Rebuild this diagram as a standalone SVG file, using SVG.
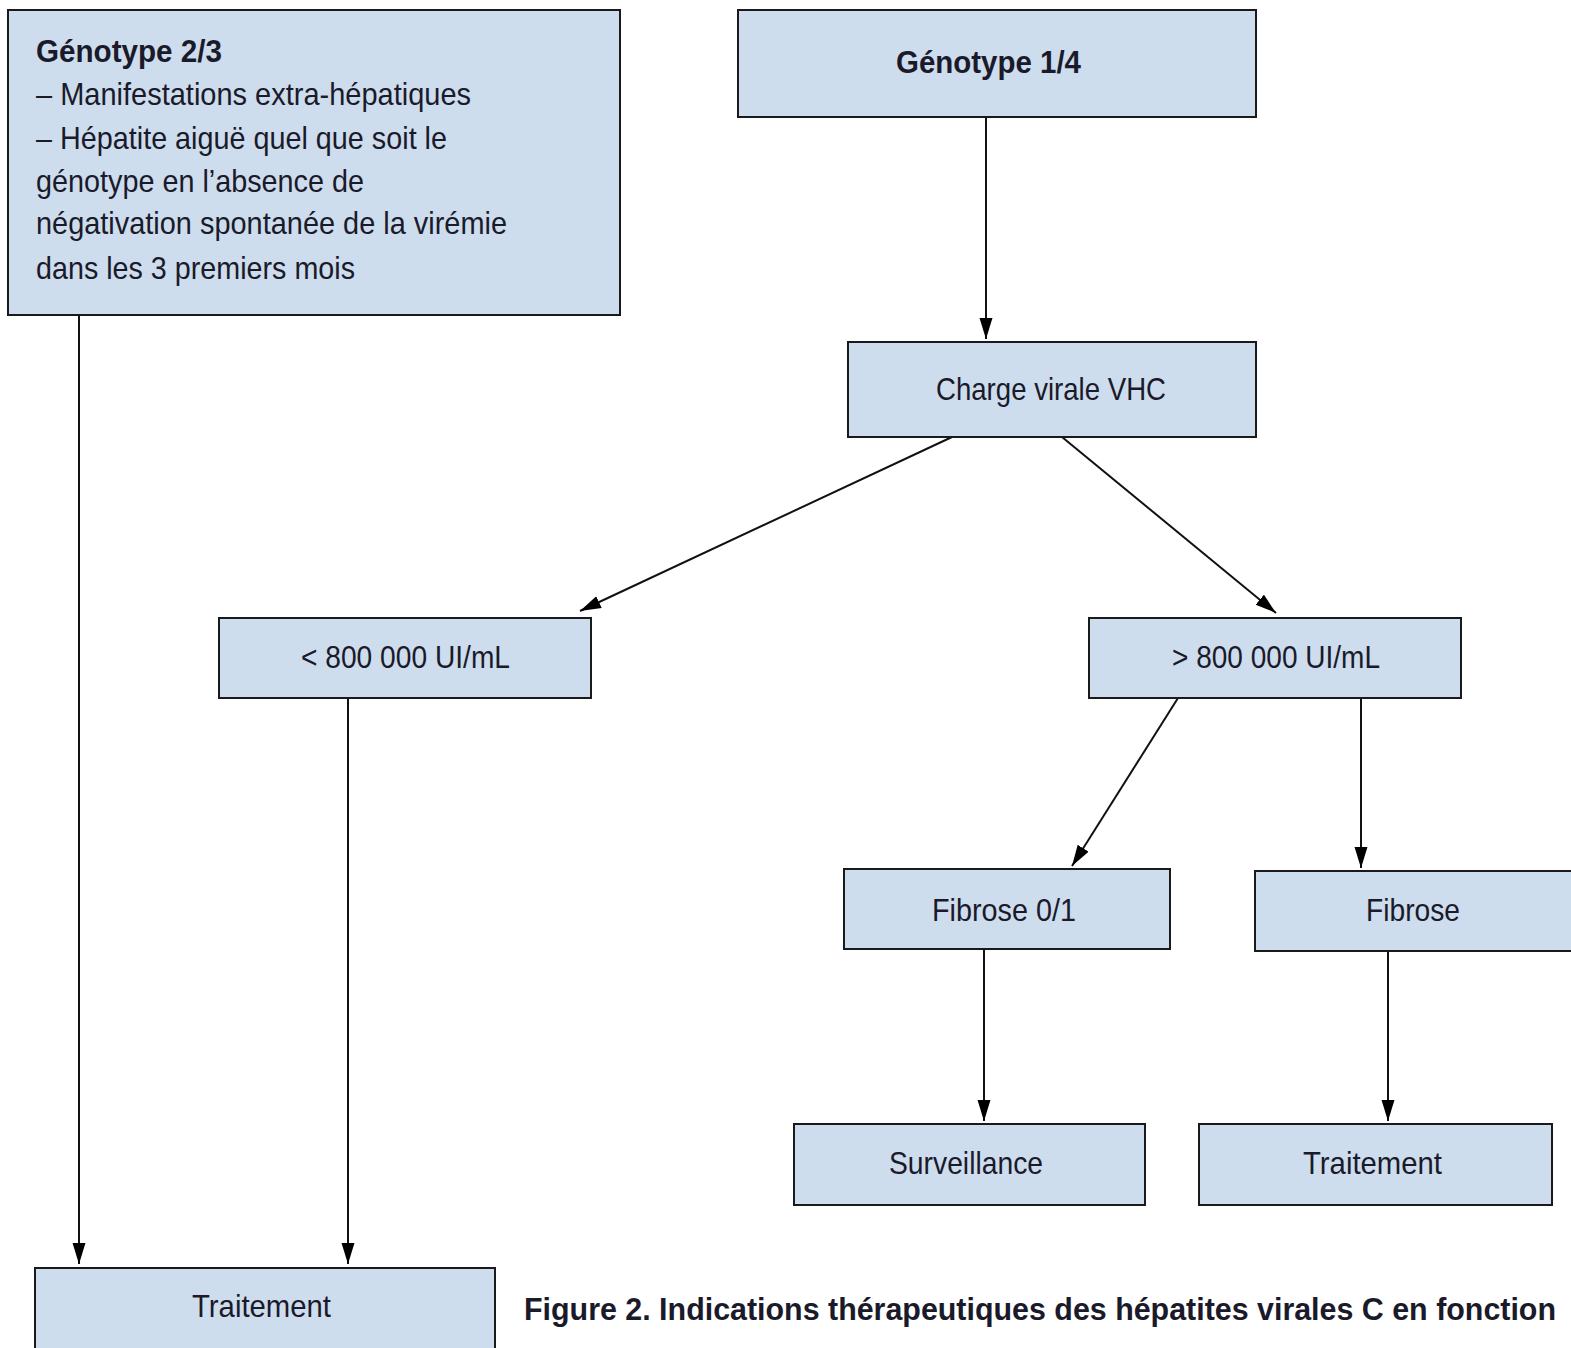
<svg xmlns="http://www.w3.org/2000/svg" width="1571" height="1348" viewBox="0 0 1571 1348">
<style>
.box{fill:#cddded;stroke:#1a1a1a;stroke-width:2}
.t{font-family:"Liberation Sans",Arial,sans-serif;font-size:32px;fill:#1a1a2a}
.b{font-weight:bold}
.c{stroke:#111;stroke-width:2;fill:none;marker-end:url(#ah)}
</style>
<defs>
<marker id="ah" markerUnits="userSpaceOnUse" markerWidth="22" markerHeight="14" refX="21" refY="6.5" orient="auto">
<path d="M0,0 L21,6.5 L0,13 z" fill="#000"/>
</marker>
</defs>
<rect width="1571" height="1348" fill="#fff"/>
<g id="connectors">
<line class="c" x1="79" y1="315" x2="79" y2="1264"/>
<line class="c" x1="348" y1="698" x2="348" y2="1264"/>
<line class="c" x1="986" y1="117" x2="986" y2="339"/>
<line class="c" x1="952" y1="437" x2="580" y2="611"/>
<line class="c" x1="1062" y1="437" x2="1276" y2="613"/>
<line class="c" x1="1178" y1="698" x2="1072" y2="866"/>
<line class="c" x1="1361" y1="698" x2="1361" y2="868"/>
<line class="c" x1="984" y1="949" x2="984" y2="1121"/>
<line class="c" x1="1388" y1="951" x2="1388" y2="1121"/>
</g>
<g id="genotype23">
<rect class="box" x="8" y="10" width="612" height="305"/>
<text class="t b" x="36" y="62" textLength="186" lengthAdjust="spacingAndGlyphs">Génotype 2/3</text>
<text class="t" x="36" y="105" textLength="435" lengthAdjust="spacingAndGlyphs">– Manifestations extra-hépatiques</text>
<text class="t" x="36" y="149" textLength="411" lengthAdjust="spacingAndGlyphs">– Hépatite aiguë quel que soit le</text>
<text class="t" x="36" y="192" textLength="328" lengthAdjust="spacingAndGlyphs">génotype en l’absence de</text>
<text class="t" x="36" y="234" textLength="471" lengthAdjust="spacingAndGlyphs">négativation spontanée de la virémie</text>
<text class="t" x="36" y="279" textLength="319" lengthAdjust="spacingAndGlyphs">dans les 3 premiers mois</text>
</g>
<g id="genotype14">
<rect class="box" x="738" y="10" width="518" height="107"/>
<text class="t b" x="896" y="73" textLength="185" lengthAdjust="spacingAndGlyphs">Génotype 1/4</text>
</g>
<g id="charge">
<rect class="box" x="848" y="342" width="408" height="95"/>
<text class="t" x="936" y="400" textLength="230" lengthAdjust="spacingAndGlyphs">Charge virale VHC</text>
</g>
<g id="inf800">
<rect class="box" x="219" y="618" width="372" height="80"/>
<text class="t" x="301" y="668" textLength="209" lengthAdjust="spacingAndGlyphs">&lt; 800 000 UI/mL</text>
</g>
<g id="sup800">
<rect class="box" x="1089" y="618" width="372" height="80"/>
<text class="t" x="1172" y="668" textLength="208" lengthAdjust="spacingAndGlyphs">&gt; 800 000 UI/mL</text>
</g>
<g id="fibrose01">
<rect class="box" x="844" y="869" width="326" height="80"/>
<text class="t" x="932" y="921" textLength="144" lengthAdjust="spacingAndGlyphs">Fibrose 0/1</text>
</g>
<g id="fibrose">
<rect class="box" x="1255" y="871" width="330" height="80"/>
<text class="t" x="1366" y="921" textLength="94" lengthAdjust="spacingAndGlyphs">Fibrose</text>
</g>
<g id="surveillance">
<rect class="box" x="794" y="1124" width="351" height="81"/>
<text class="t" x="889" y="1174" textLength="154" lengthAdjust="spacingAndGlyphs">Surveillance</text>
</g>
<g id="traitement2">
<rect class="box" x="1199" y="1124" width="353" height="81"/>
<text class="t" x="1303" y="1174" textLength="139" lengthAdjust="spacingAndGlyphs">Traitement</text>
</g>
<g id="traitement1">
<rect class="box" x="35" y="1268" width="460" height="100"/>
<text class="t" x="192" y="1317" textLength="139" lengthAdjust="spacingAndGlyphs">Traitement</text>
</g>
<g id="caption">
<text class="t b" x="524" y="1320" textLength="1032" lengthAdjust="spacingAndGlyphs">Figure 2. Indications thérapeutiques des hépatites virales C en fonction</text>
</g>
</svg>
